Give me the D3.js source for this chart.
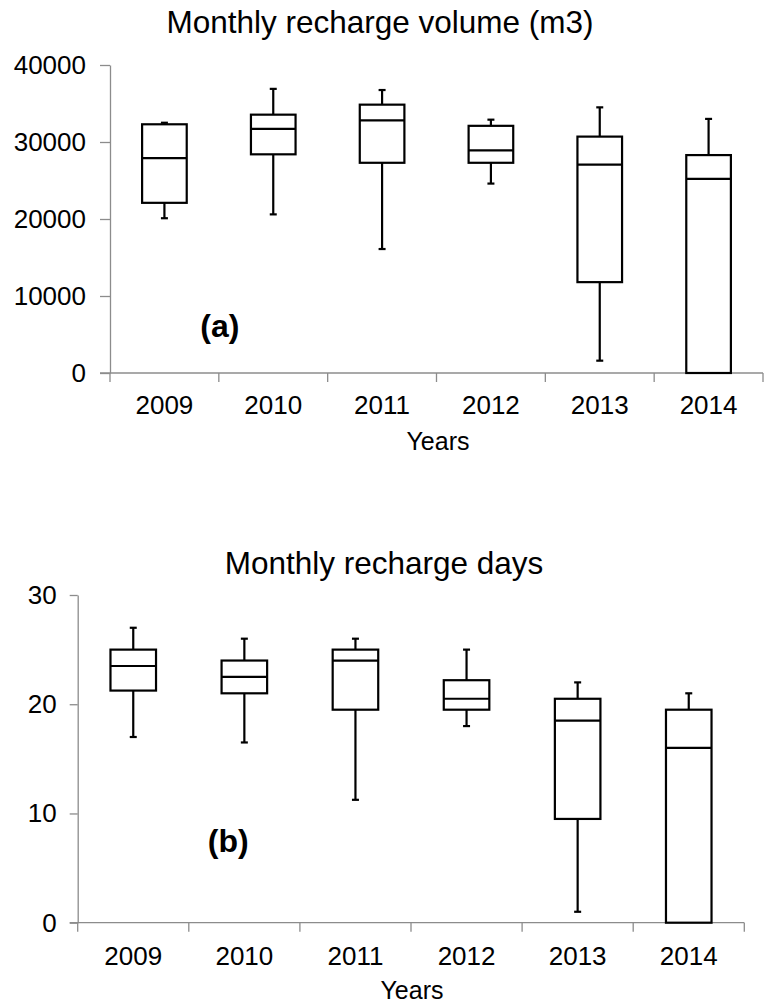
<!DOCTYPE html>
<html>
<head>
<meta charset="utf-8">
<script src="https://cdn.jsdelivr.net/npm/d3@7"></script>
<style>
  html, body { margin: 0; padding: 0; background: #fff; }
  svg { display: block; font-family: "Liberation Sans", Arial, sans-serif; }
</style>
</head>
<body>
<svg id="chart" width="766" height="1004"></svg>
<script>
// Years on the horizontal axis
const years = ["2009", "2010", "2011", "2012", "2013", "2014"];

// Monthly recharge volume (m3): five-number summary per year
const volMin    = [20100, 20600, 16100, 24600,  1600,     0];
const volQ1     = [22100, 28400, 27300, 27300, 11800,     0];
const volMedian = [27900, 31700, 32800, 28900, 27050, 25200];
const volQ3     = [32300, 33550, 34850, 32100, 30700, 28300];
const volMax    = [32500, 36900, 36750, 32900, 34500, 33000];
const volTicks  = [0, 10000, 20000, 30000, 40000];

// Monthly recharge days: five-number summary per year
const dayMin    = [17.0, 16.5, 11.25, 18.0,  1.0,  0];
const dayQ1     = [21.25, 21.0, 19.5, 19.5,  9.5,  0];
const dayMedian = [23.5, 22.5, 24.0, 20.5, 18.5, 16.0];
const dayQ3     = [25.0, 24.0, 25.0, 22.2, 20.5, 19.5];
const dayMax    = [27.0, 26.0, 26.0, 25.0, 22.0, 21.0];
const dayTicks  = [0, 10, 20, 30];

const svg = d3.select("#chart");
const axisColor = "#8c8c8c";

function boxPanel(opt) {
  const g = svg.append("g");
  const x = d3.scaleBand().domain(years).range([opt.left, opt.right]).padding(0);
  const y = d3.scaleLinear().domain([0, opt.yMax]).range([opt.bottom, opt.top]);

  // title
  g.append("text")
    .attr("x", opt.titleX).attr("y", opt.titleY)
    .attr("text-anchor", "middle")
    .attr("font-size", 31.5).attr("fill", "#000")
    .text(opt.title);

  // y axis
  const yAxis = g.append("g")
    .attr("transform", `translate(${opt.left},0)`)
    .call(d3.axisLeft(y).tickValues(opt.ticks).tickFormat(d3.format("d"))
      .tickSize(opt.yTick).tickSizeOuter(0).tickPadding(opt.yPad));
  yAxis.select(".domain").attr("stroke", axisColor).attr("stroke-width", 1.3);
  yAxis.selectAll(".tick line").attr("stroke", axisColor).attr("stroke-width", 1.3);
  yAxis.selectAll(".tick text").attr("font-size", 26).attr("fill", "#000")
    .attr("font-family", "Liberation Sans, Arial, sans-serif");

  // x axis: baseline, boundary ticks, centered labels
  g.append("line")
    .attr("x1", opt.left - opt.yTick).attr("x2", opt.right)
    .attr("y1", y(0)).attr("y2", y(0))
    .attr("stroke", axisColor).attr("stroke-width", 1.3);
  const bounds = years.map(d => x(d)).concat([x(years[years.length - 1]) + x.bandwidth()]);
  g.selectAll(".xtick").data(bounds).join("line")
    .attr("x1", d => d).attr("x2", d => d)
    .attr("y1", y(0)).attr("y2", y(0) + 9)
    .attr("stroke", axisColor).attr("stroke-width", 1.3);
  g.selectAll(".xlabel").data(years).join("text")
    .attr("x", d => x(d) + x.bandwidth() / 2)
    .attr("y", y(0) + opt.xLabelDy)
    .attr("text-anchor", "middle")
    .attr("font-size", 26).attr("fill", "#000")
    .text(d => d);
  g.append("text")
    .attr("x", opt.xTitleX).attr("y", y(0) + opt.xTitleDy)
    .attr("text-anchor", "middle")
    .attr("font-size", 25).attr("fill", "#000")
    .text("Years");

  // boxes
  const rows = years.map((yr, i) => ({
    yr, min: opt.min[i], q1: opt.q1[i], med: opt.med[i], q3: opt.q3[i], max: opt.max[i]
  }));
  const bw = x.bandwidth() * 0.41;
  const cap = 7;
  const bx = g.selectAll(".box").data(rows).join("g")
    .attr("transform", d => `translate(${x(d.yr) + x.bandwidth() / 2},0)`);
  const stroke = s => s.attr("stroke", "#000").attr("stroke-width", 2.2).attr("fill", "none");

  // whiskers
  bx.append("line").attr("x1", 0).attr("x2", 0)
    .attr("y1", d => y(d.q3)).attr("y2", d => y(d.max)).call(stroke);
  bx.append("line").attr("x1", 0).attr("x2", 0)
    .attr("y1", d => y(d.q1)).attr("y2", d => y(d.min)).call(stroke);
  bx.append("line").attr("x1", -cap / 2).attr("x2", cap / 2)
    .attr("y1", d => y(d.max)).attr("y2", d => y(d.max)).call(stroke);
  bx.filter(d => d.min !== d.q1)
    .append("line").attr("x1", -cap / 2).attr("x2", cap / 2)
    .attr("y1", d => y(d.min)).attr("y2", d => y(d.min)).call(stroke);
  // box
  bx.append("rect")
    .attr("x", -bw / 2).attr("width", bw)
    .attr("y", d => y(d.q3)).attr("height", d => y(d.q1) - y(d.q3))
    .call(stroke).attr("fill", "#fff");
  // median
  bx.append("line").attr("x1", -bw / 2).attr("x2", bw / 2)
    .attr("y1", d => y(d.med)).attr("y2", d => y(d.med)).call(stroke);

  // panel letter
  g.append("text")
    .attr("x", x(opt.letterYear) + x.bandwidth() * opt.letterFrac)
    .attr("y", y(opt.letterVal))
    .attr("text-anchor", "middle")
    .attr("font-size", 32).attr("font-weight", "bold").attr("fill", "#000")
    .text(opt.letter);
}

boxPanel({
  title: "Monthly recharge volume (m3)", titleX: 380, titleY: 33,
  left: 110, right: 763, top: 65, bottom: 373, yMax: 40000,
  ticks: volTicks, yTick: 10, yPad: 14,
  xLabelDy: 41, xTitleX: 438, xTitleDy: 77,
  min: volMin, q1: volQ1, med: volMedian, q3: volQ3, max: volMax,
  letter: "(a)", letterYear: "2010", letterFrac: 0.01, letterVal: 4700
});

boxPanel({
  title: "Monthly recharge days", titleX: 384, titleY: 574,
  left: 77.7, right: 744.3, top: 595, bottom: 922.7, yMax: 30,
  ticks: dayTicks, yTick: 8, yPad: 13,
  xLabelDy: 42, xTitleX: 412, xTitleDy: 76,
  min: dayMin, q1: dayQ1, med: dayMedian, q3: dayQ3, max: dayMax,
  letter: "(b)", letterYear: "2010", letterFrac: 0.355, letterVal: 6.5
});
</script>
</body>
</html>
